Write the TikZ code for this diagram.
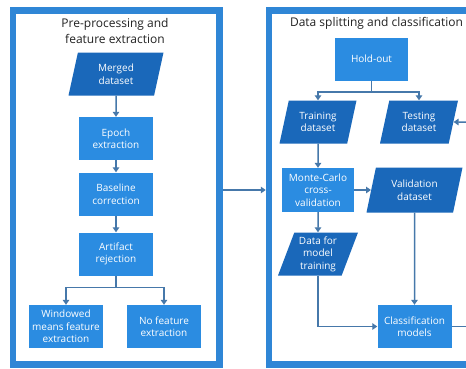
\documentclass[tikz,border=0pt]{standalone}
\usepackage{fontspec}
\setmainfont{Open Sans}
\usetikzlibrary{arrows.meta,shapes.geometric}
\definecolor{framecol}{HTML}{2F86D6}
\definecolor{rectcol}{HTML}{2B8CE1}
\definecolor{paracol}{HTML}{1A68BA}
\definecolor{arrcol}{HTML}{4678AA}
\definecolor{titlecol}{HTML}{222222}
\begin{document}
\begin{tikzpicture}[x=1pt,y=-1pt,
  box/.style={fill=rectcol, text=white, minimum width=74pt, minimum height=43pt,
    inner sep=1pt, align=center, font=\fontsize{10}{12.5}\selectfont},
  para/.style={trapezium, trapezium left angle=65, trapezium right angle=115,
    trapezium stretches body, fill=paracol, text=white, minimum height=43pt,
    inner sep=0pt, align=center, font=\fontsize{10}{12.5}\selectfont},
  frame/.style={draw=framecol, line width=6.5pt, inner sep=0pt},
  arr/.style={draw=arrcol, line width=1.5pt, -{Triangle[length=5pt,width=6.5pt]}},
  ln/.style={draw=arrcol, line width=1.5pt},
  title/.style={text=titlecol, align=center, font=\fontsize{12}{16}\selectfont}]

\useasboundingbox (0,0) rectangle (466,368);
\clip (0,0) rectangle (466,368);
\fill[white] (0,0) rectangle (466,368);

% frames
\node[frame, minimum width=206.5pt, minimum height=354pt] (lf) at (116.25,187.5) {};
\node[frame, minimum width=251pt, minimum height=354pt] (rf) at (394.5,187.5) {};

% titles
\node[title] (lt) at (115,30.5) {Pre-processing and\\feature extraction};
\node[title] (rt) at (376.5,23.5) {Data splitting and classification};

% left column
\node[para, minimum width=95pt] (merged) at (116,74) {Merged\\dataset};
\node[box] (epoch) at (116,138.5) {Epoch\\extraction};
\node[box] (baseline) at (116,194) {Baseline\\correction};
\node[box] (artifact) at (116,254) {Artifact\\rejection};
\node[box] (windowed) at (66,326.5) {Windowed\\means feature\\extraction};
\node[box] (nofeat) at (164,326.5) {No feature\\extraction};

% right column
\node[box, minimum width=73pt] (holdout) at (371.5,59) {Hold-out};
\node[para, minimum width=77pt] (training) at (318,122) {Training\\dataset};
\node[para, minimum width=78pt] (testing) at (419,122) {Testing\\dataset};
\node[box, minimum width=72pt, minimum height=44pt] (mc) at (318,190) {Monte-Carlo\\cross-\\validation};
\node[para, minimum width=96pt, minimum height=45pt] (validation) at (414.5,190) {Validation\\dataset};
\node[para, minimum width=80pt] (dmt) at (318,254) {Data for\\model\\training};
\node[box] (classif) at (414.5,326.5) {Classification\\models};

\coordinate (tr) at (470,122);
\coordinate (cr) at (470,326.5);

% connectors left
\draw[arr] (merged.south) -- (epoch.north);
\draw[arr] (epoch.south) -- (baseline.north);
\draw[arr] (baseline.south) -- (artifact.north);
\draw[ln] (artifact.south) -- ++(0,12) coordinate (aj);
\draw[arr] (aj) -| (windowed.north);
\draw[arr] (aj) -| (nofeat.north);

% between frames
\draw[arr] (lf.east |- mc.west) -- (rf.west |- mc.west);

% connectors right
\draw[ln] (holdout.south) -- ++(0,11.5) coordinate (hj);
\draw[arr] (hj) -| (training.north);
\draw[arr] (hj) -| (testing.north);
\draw[arr] (tr) -- (testing.east);
\draw[arr] (training.south) -- (mc.north);
\draw[arr] (mc.east) -- (mc.east -| validation.west);
\draw[arr] (mc.south) -- (dmt.north);
\draw[arr] (validation.south) -- (classif.north);
\draw[arr] (dmt.south) |- (classif.west);
\draw[ln] (classif.east) -- (cr);
\end{tikzpicture}
\end{document}
